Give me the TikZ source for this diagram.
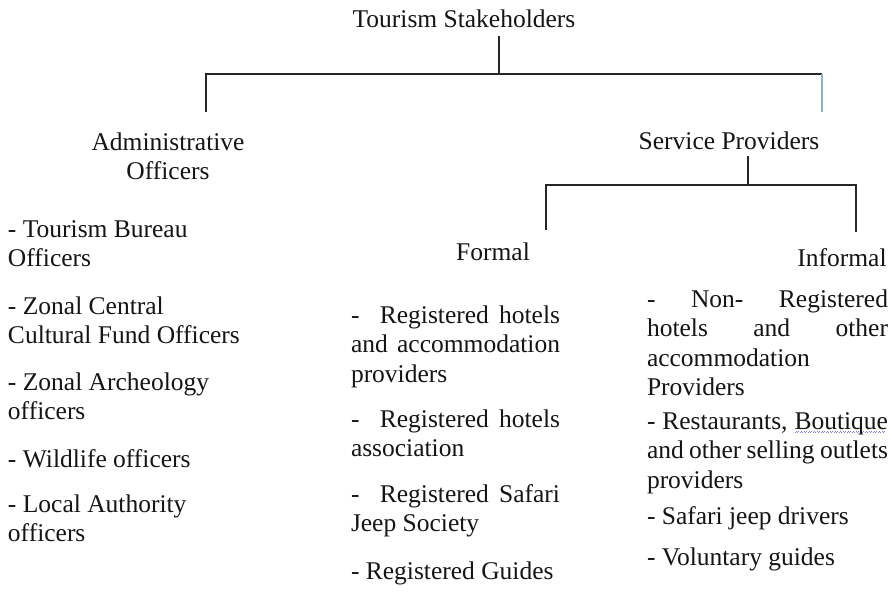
\documentclass[tikz,border=0pt]{standalone}
\usepackage{fontspec}
\setmainfont{Liberation Serif}
\definecolor{linec}{HTML}{262626}
\definecolor{tealc}{HTML}{8FB3C0}
\definecolor{wavec}{HTML}{7C7CD8}
\definecolor{textc}{HTML}{151515}
\newsavebox\wavebox
\newcommand\bwave[1]{\sbox\wavebox{#1}\rlap{\color{wavec}\lower3pt\hbox to \wd\wavebox{\leaders\hbox{\vrule width0.8pt height0.5pt\kern0.5pt\raise0.7pt\hbox{\vrule width0.8pt height0.5pt}\kern0.5pt}\hfill}}\usebox\wavebox}
\newcommand\firstl{\rule{0pt}{20pt}}
\newcommand\jline[2]{\hbox to #1pt{#2}}
\begin{document}
\begin{tikzpicture}[x=1pt,y=-1pt,
  every node/.style={inner sep=0pt, outer sep=0pt, text=textc,
    font=\fontsize{25.5}{29.5}\selectfont},
  head/.style={anchor=base},
  item/.style={anchor=north west, align=left},
  conn/.style={draw=linec, line width=1.2pt},
  tconn/.style={draw=tealc, line width=1.2pt}]
\useasboundingbox[fill=white] (0,0) rectangle (892,603);

% headings
\node[head] (ts) at (464,27) {Tourism Stakeholders};
\node[anchor=north, align=center] (ao) at (168,130) {\firstl Administrative\\Officers};
\node[head] (sp) at (729,149) {Service Providers};
\node[head] (fo) at (493,260) {Formal};
\node[head] (inf) at (842,266) {Informal};

% connector points
\coordinate (ts1) at (499,36);
\coordinate (ts2) at (499,74);
\coordinate (hl) at (206,74);
\coordinate (hr) at (822,74);
\coordinate (ad) at (206,112);
\coordinate (spd) at (822,112);
\coordinate (sp1) at (748,156);
\coordinate (sp2) at (748,185);
\coordinate (sl) at (546,185);
\coordinate (sr) at (856,185);
\coordinate (fd) at (546,230);
\coordinate (id) at (856,232);

\draw[conn] (ts1) -- (ts2);
\draw[conn] (ad) -- (hl) -- (hr);
\draw[tconn] (hr) -- (spd);
\draw[conn] (sp1) -- (sp2);
\draw[conn] (fd) -- (sl) -- (sr) -- (id);

% administrative list
\node[item] (a1) at (8,217) {\firstl- Tourism Bureau\\Officers};
\node[item] (a2) at (8,294) {\firstl- Zonal Central\\Cultural Fund Officers};
\node[item] (a3) at (8,370) {\firstl- Zonal Archeology\\officers};
\node[item] (a4) at (8,447) {\firstl- Wildlife officers};
\node[item] (a5) at (8,492) {\firstl- Local Authority\\officers};

% formal list
\node[item] (f1) at (351,303) {\jline{209}{\firstl- \ Registered hotels}\\\jline{209}{and accommodation}\\providers};
\node[item] (f2) at (351,407) {\jline{209}{\firstl- \ Registered hotels}\\association};
\node[item] (f3) at (351,482) {\jline{209}{\firstl- \ Registered Safari}\\Jeep Society};
\node[item] (f4) at (351,559) {\firstl- Registered Guides};

% informal list
\node[item] (i1) at (647,287) {\jline{241}{\firstl- \ Non- \ Registered}\\\jline{241}{hotels and other}\\accommodation\\Providers};
\node[item] (i2) at (647,409) {\jline{241}{\firstl- Restaurants, \bwave{Boutique}}\\\jline{241}{and other selling outlets}\\providers};
\node[item] (i3) at (647,504) {\firstl- Safari jeep drivers};
\node[item] (i4) at (647,545) {\firstl- Voluntary guides};
\end{tikzpicture}
\end{document}
